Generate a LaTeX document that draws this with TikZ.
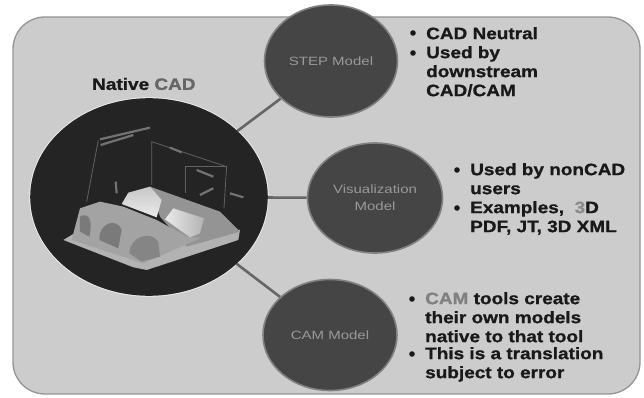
\documentclass[tikz,border=0pt]{standalone}
\usepackage{fontspec}
\setmainfont{Liberation Sans}
\newfontfamily\wideb[FakeStretch=1.15,FakeBold=1.0]{Liberation Sans Bold}
\newfontfamily\widel[FakeStretch=1.25]{Liberation Sans}
\definecolor{panelgray}{gray}{0.80}
\definecolor{inkgray}{gray}{0.10}
\definecolor{ballgray}{gray}{0.27}
\definecolor{rimgray}{gray}{0.50}
\definecolor{softgray}{gray}{0.40}
\definecolor{lablgray}{gray}{0.60}
\tikzset{
  modelball/.style={ellipse,draw=rimgray,line width=1.6pt,fill=ballgray,inner sep=0pt,text=lablgray,align=center,font=\widel\fontsize{12}{17}\selectfont},
  link/.style={draw=softgray,line width=2.6pt},
  note/.style={anchor=north west,inner sep=0pt,align=left,text=inkgray,font=\wideb\fontsize{16.5}{19}\selectfont},
  dot/.style={circle,fill=inkgray,minimum size=5.6pt,inner sep=0pt},
  annot/.style={draw=black!62,line width=0.8pt},
  annottxt/.style={draw=black!55,line width=2.2pt}
}
\usetikzlibrary{shapes.geometric}
\begin{document}
\begin{tikzpicture}[x=1pt,y=-1pt]
\useasboundingbox (0,0) rectangle (644,398);
\fill[white] (0,0) rectangle (644,398);
\draw[draw=black!42,line width=1.3pt,fill=panelgray,rounded corners=32pt] (13,17) rectangle (640,394);
% nodes
\node[modelball,draw=black!85,fill=black!86,preaction={draw=black!6,line width=3.4pt},minimum width=236pt,minimum height=196pt] (nat) at (149,197) {};
\node[modelball,minimum width=133pt,minimum height=112pt] (stepm) at (331,61) {STEP Model};
\node[modelball,minimum width=135pt,minimum height=110pt] (vis) at (375,198) {Visualization\\Model};
\node[modelball,minimum width=134pt,minimum height=111pt] (cam) at (330,335) {CAM Model};
\draw[link] (nat) -- (stepm);
\draw[link] (nat) -- (vis);
\draw[link] (nat) -- (cam);
% part picture inside the native CAD ellipse
\begin{scope}[x=0.3333pt,y=-0.3333pt,yshift=-60pt]
\draw[annot] (260,425) -- (295,240);
\draw[annottxt] (300,238) -- (450,203);
\draw[annottxt] (302,255) -- (400,225);
\draw[annot] (455,375) -- (455,245) -- (680,320) -- (672,445);
\draw[annot] (555,400) -- (555,320) -- (680,320);
\draw[annottxt] (510,263) -- (545,277);
\draw[annottxt] (590,330) -- (640,350);
\draw[annottxt] (600,405) -- (640,385);
\draw[annottxt] (690,400) -- (730,412);
\draw[annottxt] (347,365) -- (350,400);
\fill[black!30] (190,540) -- (240,510) -- (720,510) -- (715,540) -- (440,630) -- (400,622) -- cycle;
\fill[black!42] (450,380) -- (660,455) -- (720,515) -- (560,560) -- (480,470) -- cycle;
\fill[black!36] (240,445) -- (300,425) -- (370,440) -- (470,480) -- (560,530) -- (600,535) -- (430,610) -- (215,540) -- cycle;
\fill[black!52] (240,470) .. controls (265,455) and (280,480) .. (268,530) -- (240,515) -- cycle;
\fill[black!52] (298,540) .. controls (295,490) and (350,470) .. (365,510) -- (355,565) -- cycle;
\fill[black!48] (388,580) .. controls (390,530) and (450,510) .. (475,545) -- (480,590) -- (425,605) -- cycle;
\shade[top color=black!22,bottom color=black!8] (365,432) -- (385,398) -- (450,380) -- (485,420) -- (470,472) -- cycle;
\shade[left color=black!8,right color=black!30] (495,478) -- (520,445) -- (612,475) -- (600,520) -- (570,532) -- cycle;
\end{scope}
% labels
\node[anchor=west,inner sep=0pt,text=inkgray,font=\wideb\fontsize{16.5}{19}\selectfont] (natl) at (92,84) {Native \textcolor{softgray}{CAD}};
\node[note] (n1) at (426,27) {CAD Neutral};
\node[note] (n2) at (426,46) {Used by\\downstream\\CAD/CAM};
\node[note] (n3) at (470,163) {Used by nonCAD\\users};
\node[note] (n4) at (470,201) {Examples,\ \ \textcolor{black!45}{3}D\\PDF, JT, 3D XML};
\node[note] (n5) at (425,292) {\textcolor{black!50}{CAM} tools create\\their own models\\native to that tool};
\node[note] (n6) at (425,347) {This is a translation\\subject to error};
\node[dot] (d1) at (413,33) {};
\node[dot] (d2) at (413,53) {};
\node[dot] (d3) at (457,170) {};
\node[dot] (d4) at (457,208) {};
\node[dot] (d5) at (412,299) {};
\node[dot] (d6) at (412,354) {};
\end{tikzpicture}
\end{document}
